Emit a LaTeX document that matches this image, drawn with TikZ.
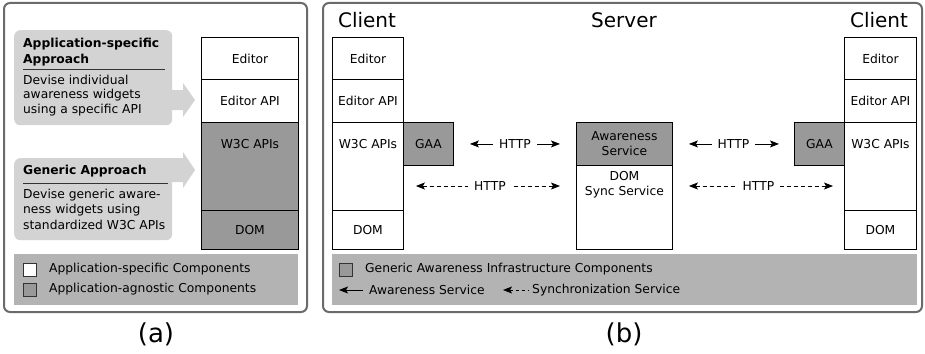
\documentclass[tikz,border=0pt]{standalone}
\usepackage{fontspec}
\setmainfont{DejaVu Sans}
\usetikzlibrary{arrows.meta,calc}
\definecolor{pborder}{HTML}{6B6B6B}
\definecolor{lightg}{HTML}{D3D3D3}
\definecolor{legg}{HTML}{B3B3B3}
\definecolor{compg}{HTML}{999999}
\begin{document}
\begin{tikzpicture}[x=1pt,y=-1pt,
  >={Stealth[length=9pt,width=7pt,inset=2pt]},
  blk/.style={draw=black,line width=0.9pt,inner sep=0pt,anchor=north west,font=\fontsize{12.3}{15}\selectfont},
  gblk/.style={blk,fill=compg},
  wblk/.style={blk,fill=white},
  txt/.style={inner sep=0pt,font=\fontsize{12.3}{15}\selectfont},
  ltxt/.style={txt,anchor=west},
  btxt/.style={ltxt,font=\fontsize{12.3}{15}\selectfont\bfseries},
  big/.style={inner sep=0pt,font=\fontsize{20}{24}\selectfont},
  captxt/.style={inner sep=0pt,font=\fontsize{26}{30}\selectfont},
  panel/.style={draw=pborder,line width=2pt,rounded corners=6pt},
  arr/.style={line width=0.9pt,<->},
  darr/.style={line width=0.9pt,<->,dash pattern=on 4pt off 3pt},
  hlab/.style={txt,fill=white,inner xsep=6pt,inner ysep=2pt},
  sq/.style={draw=black!80,line width=0.8pt,minimum size=13pt,inner sep=0pt}
]
\useasboundingbox (0,0) rectangle (925,353);
\fill[white] (0,0) rectangle (925,353);

% ---------------- panel (a)
\draw[panel] (4,3) rectangle (307,312);

% approach boxes
\node[fill=lightg,rounded corners=6pt,inner sep=0pt,anchor=north west,minimum width=158pt,minimum height=95pt] (appbox) at (14,30) {};
\fill[lightg] (165,90) -- (183,90) -- (183,83) -- (195,100) -- (183,117) -- (183,110) -- (165,110) -- cycle;
\node[btxt] (app1) at (23,44) {Application-specific};
\node[btxt] (app2) at (23,60) {Approach};
\draw[line width=0.9pt,black!80] (23,69) -- (165,69);
\node[ltxt] (app3) at (23,80) {Devise individual};
\node[ltxt] (app4) at (23,95) {awareness widgets};
\node[ltxt] (app5) at (23,110) {using a specific API};

\node[fill=lightg,rounded corners=6pt,inner sep=0pt,anchor=north west,minimum width=158pt,minimum height=82pt] (genbox) at (14,158) {};
\fill[lightg] (165,158) -- (183,158) -- (183,152) -- (195,170) -- (183,188) -- (183,182) -- (165,182) -- cycle;
\node[btxt] (gen1) at (23,171) {Generic Approach};
\draw[line width=0.9pt,black!80] (23,183) -- (168,183);
\node[ltxt] (gen2) at (23,195) {Devise generic aware-};
\node[ltxt] (gen3) at (23,210) {ness widgets using};
\node[ltxt] (gen4) at (23,225) {standardized W3C APIs};

% stack (a)
\node[wblk,minimum width=97pt,minimum height=42pt] (aEd) at (201,37) {Editor};
\node[wblk,minimum width=97pt,minimum height=43pt] (aEdApi) at (201,79) {Editor API};
\node[gblk,minimum width=97pt,minimum height=88pt] (aW3c) at (201,122) {};
\node[txt] (aW3cT) at ([yshift=-22pt]aW3c.north) {W3C APIs};
\node[gblk,minimum width=97pt,minimum height=39pt] (aDom) at (201,210) {DOM};

% legend (a)
\node[fill=legg,inner sep=0pt,anchor=north west,minimum width=284pt,minimum height=51pt] (legA) at (14,254) {};
\node[sq,fill=white] (sqA1) at (30,269.5) {};
\node[sq,fill=compg] (sqA2) at (30,289.5) {};
\node[ltxt] (legA1) at (49,269) {Application-specific Components};
\node[ltxt] (legA2) at (49,289) {Application-agnostic Components};

\node[captxt] (capA) at (156,334) {(a)};

% ---------------- panel (b)
\draw[panel] (323,3) rectangle (922,312);

\node[big] (cliL) at (367,20) {Client};
\node[big] (srv) at (624,20) {Server};
\node[big] (cliR) at (879,20) {Client};

% left client stack
\node[wblk,minimum width=71pt,minimum height=42pt] (lEd) at (332,37) {Editor};
\node[wblk,minimum width=71pt,minimum height=43pt] (lEdApi) at (332,79) {Editor API};
\node[wblk,minimum width=71pt,minimum height=88pt] (lW3c) at (332,122) {};
\node[txt] (lW3cT) at ([yshift=-22pt]lW3c.north) {W3C APIs};
\node[wblk,minimum width=71pt,minimum height=39pt] (lDom) at (332,210) {DOM};
\node[gblk,minimum width=50pt,minimum height=43pt] (lGaa) at (403,122) {GAA};

% server
\node[gblk,minimum width=96pt,minimum height=43pt,align=center] (aware) at (576,122) {Awareness\\Service};
\node[wblk,minimum width=96pt,minimum height=84pt] (sync) at (576,165) {};
\node[txt,align=center] (syncT) at ([yshift=-20pt]sync.north) {DOM\\Sync Service};

% right client stack
\node[wblk,minimum width=72pt,minimum height=42pt] (rEd) at (844,37) {Editor};
\node[wblk,minimum width=72pt,minimum height=43pt] (rEdApi) at (844,79) {Editor API};
\node[wblk,minimum width=72pt,minimum height=88pt] (rW3c) at (844,122) {};
\node[txt] (rW3cT) at ([yshift=-22pt]rW3c.north) {W3C APIs};
\node[wblk,minimum width=72pt,minimum height=39pt] (rDom) at (844,210) {DOM};
\node[gblk,minimum width=50pt,minimum height=43pt] (rGaa) at (794,122) {GAA};

% connectors
\draw[arr,shorten <=16pt,shorten >=16pt] (lGaa.east) -- (aware.west) node[midway,hlab] {HTTP};
\draw[arr,shorten <=16pt,shorten >=15pt] (aware.east) -- (rGaa.west) node[midway,hlab] {HTTP};
\coordinate (dL) at ($(lW3c.north east)+(0,64)$);
\coordinate (dSL) at ($(sync.north west)+(0,21)$);
\coordinate (dSR) at ($(sync.north east)+(0,21)$);
\coordinate (dR) at ($(rW3c.north west)+(0,64)$);
\draw[darr,shorten <=12pt,shorten >=16pt] (dL) -- (dSL) node[midway,hlab] {HTTP};
\draw[darr,shorten <=16pt,shorten >=11pt] (dSR) -- (dR) node[midway,hlab] {HTTP};

% legend (b)
\node[fill=legg,inner sep=0pt,anchor=north west,minimum width=585pt,minimum height=51pt] (legB) at (332,254) {};
\node[sq,fill=compg] (sqB1) at (346,269.5) {};
\node[ltxt] (legB1) at (365,269) {Generic Awareness Infrastructure Components};
\coordinate (la1) at (339,290);
\coordinate (la2) at (363,290);
\draw[line width=0.9pt,<-] (la1) -- (la2);
\node[ltxt] (legB2) at (369,290) {Awareness Service};
\coordinate (lb1) at (503,290);
\coordinate (lb2) at (529,290);
\draw[line width=0.9pt,<-,dash pattern=on 3pt off 3pt] (lb1) -- (lb2);
\node[ltxt] (legB3) at (532,290) {Synchronization Service};

\node[captxt] (capB) at (624,334) {(b)};
\end{tikzpicture}
\end{document}
